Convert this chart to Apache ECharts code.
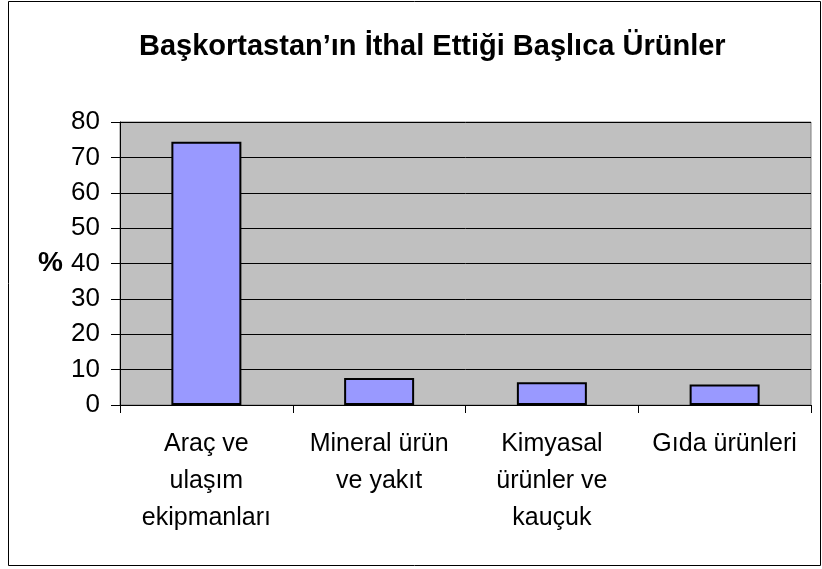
<!DOCTYPE html>
<html lang="tr">
<head>
    <meta charset="UTF-8">
    <title>Başkortastan'ın İthal Ettiği Başlıca Ürünler</title>
    <script src="https://cdn.jsdelivr.net/npm/echarts@6/dist/echarts.min.js"></script>
    <style>
        html, body { margin: 0; padding: 0; background: #fff; }
        #chart { width: 822px; height: 569px; }
    </style>
</head>
<body>
<div id="chart"></div>
<script>
    // veriler
    var categories = ['Araç ve\nulaşım\nekipmanları', 'Mineral ürün\nve yakıt', 'Kimyasal\nürünler ve\nkauçuk', 'Gıda ürünleri'];
    var values = [74.4, 7.6, 6.4, 5.8];
    var yTicks = { min: 0, max: 80, interval: 10 };

    var chart = echarts.init(document.getElementById('chart'));
    var font = 'Liberation Sans, Arial, sans-serif';

    var option = {
        backgroundColor: '#fff',
        animation: false,
        title: {
            text: 'Başkortastan’ın İthal Ettiği Başlıca Ürünler',
            left: 134,
            top: 27,
            textStyle: { fontFamily: font, fontSize: 29, fontWeight: 'bold', color: '#000' }
        },
        graphic: [{
            type: 'rect',
            shape: { x: 8.5, y: 1.5, width: 812, height: 564 },
            style: { fill: 'none', stroke: '#000', lineWidth: 1 },
            silent: true
        }],
        grid: {
            left: 120,
            right: 11,
            top: 122,
            bottom: 164,
            show: true,
            backgroundColor: '#C0C0C0',
            borderColor: '#808080',
            borderWidth: 1
        },
        xAxis: {
            type: 'category',
            data: categories,
            axisLine: { lineStyle: { color: '#000', width: 1 } },
            axisTick: { show: true, length: 8, lineStyle: { color: '#000' } },
            axisLabel: {
                interval: 0,
                margin: 21,
                lineHeight: 37,
                fontFamily: font,
                fontSize: 25,
                color: '#000'
            }
        },
        yAxis: {
            type: 'value',
            min: yTicks.min,
            max: yTicks.max,
            interval: yTicks.interval,
            name: '%',
            nameLocation: 'middle',
            nameRotate: 0,
            nameGap: 57,
            nameTextStyle: { fontFamily: font, fontSize: 28, fontWeight: 'bold', color: '#000' },
            axisLine: { show: true, lineStyle: { color: '#000', width: 1 } },
            axisTick: { show: true, length: 9, lineStyle: { color: '#000' } },
            axisLabel: { margin: 20, fontFamily: font, fontSize: 26, color: '#000' },
            splitLine: { show: true, lineStyle: { color: '#000', width: 1 } }
        },
        series: [{
            type: 'bar',
            data: values,
            barWidth: 70,
            itemStyle: { color: '#9999FF', borderColor: '#000', borderWidth: 2 }
        }]
    };
    chart.setOption(option);
</script>
</body>
</html>
